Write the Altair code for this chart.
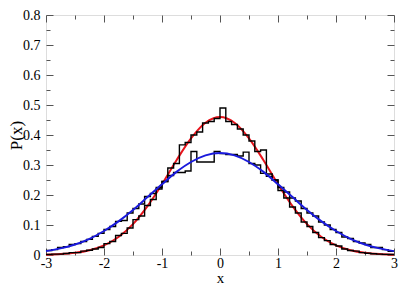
import altair as alt
import pandas as pd

# ---- data ----
bin_width = 0.1
bin_left = [round(-3 + bin_width * i, 2) for i in range(60)]

red_hist = [0.002, 0.003, 0.003, 0.005, 0.008, 0.008, 0.013, 0.016, 0.020, 0.025,
            0.038, 0.045, 0.065, 0.072, 0.090, 0.118, 0.130, 0.165, 0.185, 0.220,
            0.245, 0.290, 0.305, 0.367, 0.375, 0.400, 0.410, 0.440, 0.445, 0.455,
            0.490, 0.445, 0.435, 0.420, 0.400, 0.380, 0.345, 0.350, 0.270, 0.250,
            0.215, 0.190, 0.160, 0.140, 0.110, 0.095, 0.075, 0.058, 0.048, 0.035,
            0.030, 0.020, 0.015, 0.013, 0.008, 0.006, 0.004, 0.003, 0.002, 0.002]

blue_hist = [0.015, 0.018, 0.025, 0.028, 0.035, 0.038, 0.045, 0.052, 0.062, 0.072,
             0.085, 0.095, 0.112, 0.115, 0.140, 0.155, 0.170, 0.195, 0.205, 0.225,
             0.245, 0.265, 0.275, 0.275, 0.280, 0.345, 0.310, 0.310, 0.310, 0.345,
             0.338, 0.335, 0.335, 0.330, 0.343, 0.305, 0.300, 0.272, 0.262, 0.250,
             0.225, 0.210, 0.190, 0.180, 0.155, 0.140, 0.130, 0.110, 0.100, 0.085,
             0.075, 0.060, 0.055, 0.045, 0.040, 0.035, 0.025, 0.025, 0.018, 0.012]

curve_x = [-3.0, -2.75, -2.5, -2.25, -2.0, -1.75, -1.5, -1.25, -1.0, -0.75, -0.5, -0.25, 0.0,
           0.25, 0.5, 0.75, 1.0, 1.25, 1.5, 1.75, 2.0, 2.25, 2.5, 2.75, 3.0]
red_curve = [0.0012, 0.003, 0.0072, 0.016, 0.032, 0.060, 0.103, 0.163, 0.236, 0.316, 0.389, 0.441, 0.460,
             0.441, 0.389, 0.316, 0.236, 0.163, 0.103, 0.060, 0.032, 0.016, 0.0072, 0.003, 0.0012]
blue_curve = [0.0129, 0.022, 0.035, 0.054, 0.080, 0.112, 0.150, 0.193, 0.236, 0.277, 0.310, 0.332, 0.340,
              0.332, 0.310, 0.277, 0.236, 0.193, 0.150, 0.112, 0.080, 0.054, 0.035, 0.022, 0.0129]

x_major = [-3, -2, -1, 0, 1, 2, 3]
x_minor = [-2.5, -1.5, -0.5, 0.5, 1.5, 2.5]
y_major = [0, 0.1, 0.2, 0.3, 0.4, 0.5, 0.6, 0.7, 0.8]
y_minor = [0.05, 0.15, 0.25, 0.35, 0.45, 0.55, 0.65, 0.75]

# ---- tables ----
def hist_df(vals):
    xs = bin_left + [3.0]
    ys = vals + [vals[-1]]
    return pd.DataFrame({"x": xs, "y": ys})

red_h = hist_df(red_hist)
blue_h = hist_df(blue_hist)
red_c = pd.DataFrame({"x": curve_x, "y": red_curve})
blue_c = pd.DataFrame({"x": curve_x, "y": blue_curve})

xs = alt.Scale(domain=[-3, 3], nice=False, zero=False)
ys = alt.Scale(domain=[0, 0.8], nice=False)

FONT = "Liberation Serif, Times New Roman, serif"
MAJ, MIN = 7, 4
TICKC = "#555555"


def xaxis(orient, values, size, labels, title=None):
    kw = dict(orient=orient, values=values, offset=-size, tickSize=size, tickColor=TICKC,
              tickWidth=1, labels=labels, domain=False, grid=False, title=title)
    if labels:
        kw.update(labelFont=FONT, labelFontSize=14, labelColor="black", labelPadding=1,
                  labelExpr="'' + datum.value", labelFlush=False, labelOverlap=False,
                  titleFont=FONT, titleFontSize=15, titleFontWeight="normal", titleColor="black",
                  titlePadding=0)
    return alt.Axis(**kw)


def yaxis(orient, values, size, labels, title=None):
    kw = dict(orient=orient, values=values, offset=-size, tickSize=size, tickColor=TICKC,
              tickWidth=1, labels=labels, domain=False, grid=False, title=title)
    if labels:
        kw.update(labelFont=FONT, labelFontSize=14, labelColor="black", labelPadding=6,
                  labelExpr="'' + datum.value", labelFlush=False, labelOverlap=False,
                  titleFont=FONT, titleFontSize=17, titleFontWeight="normal", titleColor="black",
                  titlePadding=-3)
    return alt.Axis(**kw)


red_curve_layer = alt.Chart(red_c).mark_line(color="#e8141c", strokeWidth=2, interpolate="monotone").encode(
    x=alt.X("x:Q", scale=xs, axis=xaxis("top", x_major, MAJ, False)),
    y=alt.Y("y:Q", scale=ys, axis=yaxis("right", y_major, MAJ, False)),
)

red_hist_layer = alt.Chart(red_h).mark_line(color="black", strokeWidth=1.4, interpolate="step-after").encode(
    x=alt.X("x:Q", scale=xs, axis=xaxis("bottom", x_major, MAJ, True, "x")),
    y=alt.Y("y:Q", scale=ys, axis=yaxis("left", y_major, MAJ, True, "P(x)")),
)

blue_hist_layer = alt.Chart(blue_h).mark_line(color="black", strokeWidth=1.4, interpolate="step-after").encode(
    x=alt.X("x:Q", scale=xs, axis=xaxis("bottom", x_minor, MIN, False)),
    y=alt.Y("y:Q", scale=ys, axis=yaxis("left", y_minor, MIN, False)),
)

blue_curve_layer = alt.Chart(blue_c).mark_line(color="#1a1adc", strokeWidth=2, interpolate="monotone").encode(
    x=alt.X("x:Q", scale=xs, axis=xaxis("top", x_minor, MIN, False)),
    y=alt.Y("y:Q", scale=ys, axis=yaxis("right", y_minor, MIN, False)),
)

chart = alt.layer(red_curve_layer, red_hist_layer, blue_hist_layer, blue_curve_layer).resolve_axis(
    x="independent", y="independent"
).properties(
    width=348, height=240,
    autosize=alt.AutoSizeParams(type="none"),
    padding={"left": 38, "top": 7, "right": 5, "bottom": 30},
).configure_view(
    stroke="#808080", strokeWidth=2
).configure(background="white", font=FONT)

chart.save("out.html", embed_options={"renderer": "svg", "actions": False})
